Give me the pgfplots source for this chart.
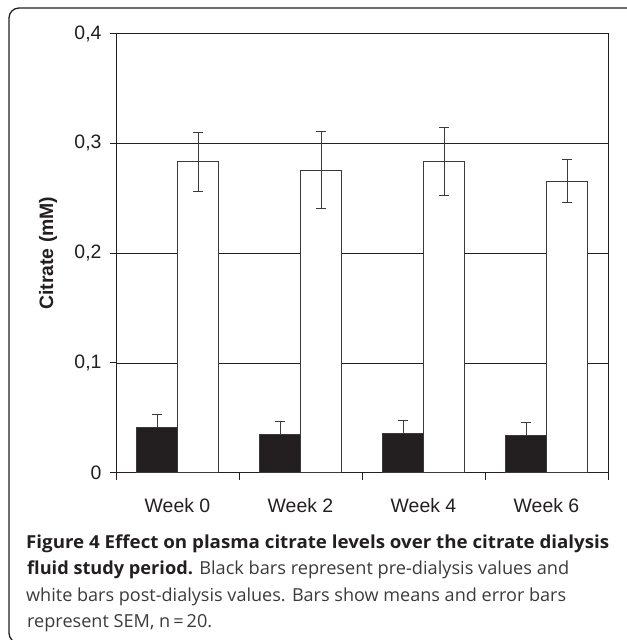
\documentclass[border=0pt]{standalone}
\usepackage{fontspec}
\setmainfont{Liberation Sans}
\newfontfamily\capfont{Open Sans}
\usepackage{graphicx}
\usepackage{pgfplots}
\pgfplotsset{compat=1.18}
\definecolor{ink}{HTML}{231F20}
\definecolor{barline}{HTML}{3A3A3A}
\definecolor{captxt}{HTML}{3B3B3B}
\begin{document}
\begin{tikzpicture}
\useasboundingbox (0bp,0bp) rectangle (627bp,-640bp);
\draw[ink, line width=1.3bp, rounded corners=10bp] (645bp,-643bp) -- (9bp,-643bp) -- (9bp,-8bp) -- (645bp,-8bp);
\begin{axis}[
  at={(116bp,-472.7bp)}, anchor=south west,
  scale only axis, width=492bp, height=439bp,
  ybar=0bp, bar width=41bp,
  xmin=-0.5, xmax=3.5, ymin=0, ymax=0.4,
  axis line style={ink, line width=1bp},
  xtick={0,1,2,3}, xticklabels={Week 0,Week 2,Week 4,Week 6},
  major x tick style={draw=none},
  minor xtick={-0.5,0.5,1.5,2.5,3.5},
  ytick={0,0.1,0.2,0.3,0.4},
  tick align=outside, major tick length=6bp, minor tick length=7bp,
  xtick pos=lower, ytick pos=left,
  tick style={ink, line width=1bp},
  ymajorgrids, grid style={ink, line width=0.9bp},
  /pgf/number format/.cd, use comma, fixed, precision=1, assume math mode=true,
  /pgfplots/.cd,
  ticklabel style={font=\fontsize{19.5}{20}\selectfont, text=ink},
  xticklabel style={yshift=-16bp},
  yticklabel style={xshift=-5bp},
  ylabel={Citrate (mM)},
  ylabel style={font=\bfseries\fontsize{19.5}{20}\selectfont, text=ink, at={(axis description cs:-0.128,0.5)}, anchor=base},
]
\addplot[fill=ink, draw=barline, line width=1bp,
  error bars/.cd, y dir=plus, y explicit,
  error bar style={barline, line width=1bp},
  error mark options={rotate=90, barline, line width=1bp, mark size=5bp}]
  coordinates {(0,0.041) +- (0,0.012) (1,0.035) +- (0,0.0115) (2,0.036) +- (0,0.012) (3,0.0335) +- (0,0.012)};
\addplot[fill=white, draw=barline, line width=1bp,
  error bars/.cd, y dir=both, y explicit,
  error bar style={barline, line width=1bp},
  error mark options={rotate=90, barline, line width=1bp, mark size=5bp}]
  coordinates {(0,0.2833) +- (0,0.027) (1,0.2757) +- (0,0.035) (2,0.2833) +- (0,0.031) (3,0.2656) +- (0,0.0195)};
\end{axis}
\node[anchor=base west, inner sep=0pt, text=ink] at (26bp,-548bp) {\resizebox{583bp}{\height}{\capfont\fontsize{18}{20}\selectfont\bfseries Figure 4 Effect on plasma citrate levels over the citrate dialysis}};
\node[anchor=base west, inner sep=0pt, text=captxt] at (27bp,-574.5bp) {\resizebox{542bp}{\height}{\capfont\fontsize{18}{20}\selectfont{\bfseries\color{ink}fluid study period.} Black bars represent pre-dialysis values and}};
\node[anchor=base west, inner sep=0pt, text=captxt] at (26bp,-601bp) {\resizebox{540bp}{\height}{\capfont\fontsize{18}{20}\selectfont white bars post-dialysis values. Bars show means and error bars}};
\node[anchor=base west, inner sep=0pt, text=captxt] at (27bp,-627.5bp) {\resizebox{185bp}{\height}{\capfont\fontsize{18}{20}\selectfont represent SEM, n\,=\,20.}};
\end{tikzpicture}
\end{document}
